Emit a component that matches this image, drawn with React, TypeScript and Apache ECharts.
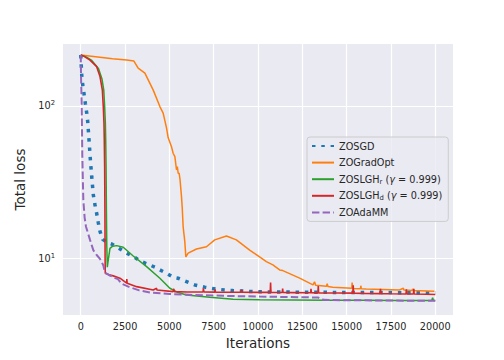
import React, { useEffect, useRef } from 'react';
import * as echarts from 'echarts';

const seriesNames = ['ZOSGD', 'ZOGradOpt', 'ZOSLGHr', 'ZOSLGHd', 'ZOAdaMM'];
const seriesColors = ['#1f77b4', '#ff7f0e', '#2ca02c', '#d62728', '#9467bd'];
const xTickValues = [0, 2500, 5000, 7500, 10000, 12500, 15000, 17500, 20000];
const xAxisTitle = 'Iterations';
const yAxisTitle = 'Total loss';

const zosgd = [
  [0, 216], [56, 160], [113, 137], [186, 120], [259, 104], [338, 90], [394, 79], [467, 60],
  [540, 45], [619, 34.4], [709, 26.1], [805, 22.4], [900, 19.7], [991, 17.1], [1087, 15.0],
  [1239, 13.3], [1500, 12.7], [1745, 12.4], [2173, 11.6], [2590, 10.8], [3000, 10.2],
  [3434, 9.5], [3750, 9.18], [4183, 8.74], [4465, 8.38], [4842, 7.97], [5213, 7.5],
  [5495, 7.39], [5872, 7.1], [6435, 6.68], [7000, 6.46], [7657, 6.26], [8591, 6.13],
  [9717, 6.04], [11000, 6.0], [13000, 5.98], [15000, 5.96], [17000, 5.95], [19000, 5.94],
  [20000, 5.93],
];

const zogradopt = [
  [0, 216], [600, 212], [1200, 208], [1800, 204], [2590, 200], [3000, 197], [3240, 177],
  [3620, 164], [4090, 127], [4465, 99], [4650, 89.6], [4842, 71.5], [4930, 62], [5120, 54],
  [5213, 48.9], [5310, 46.5], [5404, 38], [5450, 40], [5500, 36], [5550, 36.2], [5600, 33],
  [5685, 25.4], [5730, 21], [5777, 16.1], [5870, 12.9], [5930, 10.2], [6060, 10.8],
  [6530, 11.5], [7093, 11.9], [7560, 13.2], [8220, 14.0], [8780, 13.2], [9530, 11.3],
  [10090, 10.2], [10470, 9.5], [10840, 9.04], [11220, 8.38], [11400, 8.3], [12350, 7.4],
  [13100, 6.68], [13190, 7.0], [13250, 6.65], [13870, 6.55], [13900, 6.8], [13950, 6.52],
  [14220, 6.46], [15290, 6.35], [15310, 6.92], [15340, 6.34], [15780, 6.3], [15800, 6.6],
  [15830, 6.3], [16100, 6.28], [17980, 6.19], [18200, 6.35], [18230, 6.18], [18700, 6.15],
  [18720, 6.3], [18750, 6.14], [19950, 6.07],
];

const zoslghR = [
  [0, 216], [300, 210], [600, 200], [1000, 176], [1200, 150], [1300, 127], [1350, 99],
  [1390, 77], [1410, 60], [1430, 40], [1450, 20], [1470, 12], [1500, 8.73], [1540, 9.5],
  [1650, 11.6], [1800, 12.0], [2027, 12.1], [2398, 11.8], [2961, 10.35], [3716, 8.81],
  [4465, 7.39], [5028, 6.35], [5500, 5.95], [5968, 5.74], [7280, 5.55], [8591, 5.38],
  [10095, 5.33], [12000, 5.32], [14000, 5.3], [16000, 5.29], [18000, 5.28], [19800, 5.27],
  [19850, 5.5], [19900, 5.27], [20000, 5.27],
];

const zoslghD = [
  [0, 216], [146, 213], [523, 200], [900, 181], [1087, 156], [1220, 127], [1272, 99],
  [1312, 77], [1329, 60], [1350, 40], [1365, 20], [1375, 10], [1385, 7.97], [1600, 7.8],
  [1836, 7.66], [2213, 7.4], [2590, 6.86], [2600, 7.3], [2620, 6.85], [3153, 6.51],
  [4090, 6.19], [4280, 6.35], [4300, 6.18], [5213, 6.04], [5250, 6.3], [5280, 6.04],
  [6000, 6.0], [6900, 6.0], [6920, 6.35], [6950, 6.0], [7560, 5.99], [7580, 6.25],
  [7600, 5.99], [8500, 5.98], [9060, 5.98], [9080, 6.22], [9100, 5.98], [10000, 5.97],
  [10690, 5.97], [10710, 6.92], [10730, 5.97], [11370, 5.96], [11390, 6.32], [11410, 5.96],
  [12000, 5.95], [12970, 5.93], [12990, 6.3], [13010, 5.93], [13380, 5.92], [13400, 6.58],
  [13420, 5.92], [14500, 5.91], [15350, 5.9], [15370, 6.65], [15390, 5.9], [16000, 5.88],
  [16890, 5.86], [16910, 6.3], [16930, 5.86], [17500, 5.84], [18350, 5.83], [18370, 6.25],
  [18390, 5.83], [18770, 5.82], [18790, 6.3], [18810, 5.82], [19500, 5.8], [20000, 5.78],
];

const zoadamm = [
  [0, 216], [20, 150], [56, 99], [90, 46.5], [146, 24.1], [220, 18.5], [298, 16.1],
  [524, 13.2], [709, 11.3], [900, 10.5], [1087, 9.9], [1272, 9.0], [1368, 8.05],
  [1650, 7.7], [1931, 7.4], [2100, 7.3], [2308, 6.8], [2776, 6.45], [3300, 6.15],
  [3900, 5.95], [5028, 5.83], [6340, 5.74], [8220, 5.66], [10095, 5.6], [12350, 5.55],
  [13400, 5.52], [13700, 5.33], [15000, 5.3], [17000, 5.28], [18500, 5.26], [20000, 5.26],
];

const FONT = 'DejaVu Sans';
const TXT = '#262626';

export default function App() {
  const ref = useRef<HTMLDivElement>(null);
  useEffect(() => {
    if (!ref.current) return;
    const chart = echarts.init(ref.current, undefined, { renderer: 'svg' });
    const dataSets = [zosgd, zogradopt, zoslghR, zoslghD, zoadamm];
    const lineStyles: any[] = [
      { width: 3.5, type: [3.5, 5.8], cap: 'butt' },
      { width: 1.5, type: 'solid' },
      { width: 1.5, type: 'solid' },
      { width: 1.6, type: 'solid' },
      { width: 2, type: [7.4, 3.2], cap: 'butt' },
    ];
    const legendLabel = (name: string) => {
      if (name === 'ZOSLGHr') return 'ZOSLGH{sub|r} ({g|γ} = 0.999)';
      if (name === 'ZOSLGHd') return 'ZOSLGH{sub|d} ({g|γ} = 0.999)';
      return name;
    };
    chart.setOption({
      animation: false,
      backgroundColor: '#ffffff',
      grid: { left: 63, right: 51, top: 44, bottom: 45, show: true, backgroundColor: '#EAEAF2', borderWidth: 0 },
      xAxis: {
        type: 'value',
        min: -1000,
        max: 21000,
        name: xAxisTitle,
        nameLocation: 'middle',
        nameGap: 20,
        nameTextStyle: { fontFamily: FONT, fontSize: 13.5, color: TXT },
        axisLine: { show: false },
        axisTick: { show: false, customValues: xTickValues },
        axisLabel: {
          customValues: xTickValues,
          formatter: (v: number) => String(v),
          fontFamily: FONT,
          fontSize: 9.7,
          color: TXT,
          margin: 6,
        },
        splitLine: { show: true, lineStyle: { color: '#ffffff', width: 1.2 } },
      },
      yAxis: {
        type: 'log',
        logBase: 10,
        min: 4.24,
        max: 255,
        name: yAxisTitle,
        nameLocation: 'middle',
        nameGap: 29,
        nameTextStyle: { fontFamily: FONT, fontSize: 13.5, color: TXT },
        axisLine: { show: false },
        axisTick: { show: false },
        axisLabel: {
          margin: 8,
          showMinLabel: false,
          showMaxLabel: false,
          formatter: (v: number) => {
            const l = Math.log10(v);
            const e = Math.round(l);
            if (Math.abs(l - e) > 1e-6) return '';
            return `{b|10}{s|${e}}`;
          },
          rich: {
            b: { fontFamily: FONT, fontSize: 9.7, lineHeight: 12, color: TXT },
            s: { fontFamily: FONT, fontSize: 6.8, lineHeight: 6, verticalAlign: 'top', color: TXT },
          },
        },
        splitLine: { show: true, showMinLine: false, showMaxLine: false, lineStyle: { color: '#ffffff', width: 1.2 } },
        minorSplitLine: { show: false },
      },
      legend: {
        orient: 'vertical',
        left: 307,
        top: 137,
        data: seriesNames,
        backgroundColor: 'rgba(234,234,242,0.8)',
        borderColor: '#cccccc',
        borderWidth: 1,
        borderRadius: 3,
        padding: [3, 6, 3, 4],
        itemGap: 4.6,
        itemWidth: 22,
        itemHeight: 10,
        itemStyle: { opacity: 0 },
        formatter: legendLabel,
        textStyle: {
          fontFamily: FONT,
          fontSize: 9.7,
          color: TXT,
          lineHeight: 12,
          rich: {
            sub: { fontFamily: FONT, fontSize: 6.8, lineHeight: 4, verticalAlign: 'bottom', color: TXT },
            g: { fontFamily: FONT, fontSize: 9.7, fontStyle: 'italic', color: TXT },
          },
        },
      },
      series: seriesNames.map((n, i) => ({
        name: n,
        type: 'line',
        data: dataSets[i],
        showSymbol: false,
        symbol: 'none',
        color: seriesColors[i],
        lineStyle: { color: seriesColors[i], ...lineStyles[i] },
        emphasis: { disabled: true },
      })),
    });
    return () => chart.dispose();
  }, []);
  return <div ref={ref} style={{ position: 'absolute', left: 0, top: 0, width: 504, height: 360 }} />;
}
